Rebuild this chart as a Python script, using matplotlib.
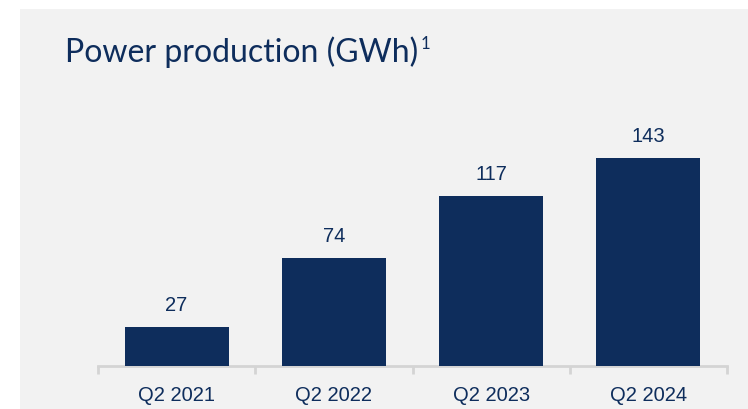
import matplotlib.pyplot as plt

# data
quarters = ["Q2 2021", "Q2 2022", "Q2 2023", "Q2 2024"]
production = [27, 74, 117, 143]

navy = "#0e2d5c"
panel = "#f2f2f2"
axis_grey = "#d4d4d4"

fig = plt.figure(figsize=(7.48, 4.10), dpi=100)
fig.patch.set_facecolor("white")

# grey panel behind the chart
bg = fig.add_axes([20 / 748, 0, 728 / 748, 400 / 410], zorder=-1)
bg.set_axis_off()
bg.add_patch(plt.Rectangle((0, 0), 1, 1, transform=bg.transAxes, color=panel))

ax = fig.add_axes([98 / 748, 43 / 410, 629 / 748, 257 / 410])
ax.set_facecolor("none")

x = range(len(quarters))
ax.bar(x, production, width=0.66, color=navy, zorder=3)
ax.set_xlim(-0.5, len(quarters) - 0.5)
ax.set_ylim(0, 176.6)

for xi, v in zip(x, production):
    ax.text(xi, v + 9, str(v), ha="center", va="bottom", fontsize=14.5,
            color=navy, family="Liberation Sans")

for s in ["top", "right", "left"]:
    ax.spines[s].set_visible(False)
ax.spines["bottom"].set_color(axis_grey)
ax.spines["bottom"].set_linewidth(2)
ax.set_yticks([])
ax.set_xticks([-0.5, 0.5, 1.5, 2.5, 3.5])
ax.set_xticklabels([])
ax.tick_params(axis="x", length=6, width=2, color=axis_grey)
for xi, q in zip(x, quarters):
    ax.text(xi, -0.075, q, transform=ax.get_xaxis_transform(), ha="center", va="top",
            fontsize=14.5, color=navy, family="Liberation Sans")

title = fig.text(65 / 748, 1 - 52 / 410, "Power production (GWh)", fontsize=23,
                 color=navy, family="Lato", va="center", ha="left")
fig.canvas.draw()
bb = title.get_window_extent()
fig.text((bb.x1 + 2) / 748, 1 - 44 / 410, "1", fontsize=12, color=navy,
         family="Lato", va="center", ha="left")

fig.savefig("out.png", dpi=100)
